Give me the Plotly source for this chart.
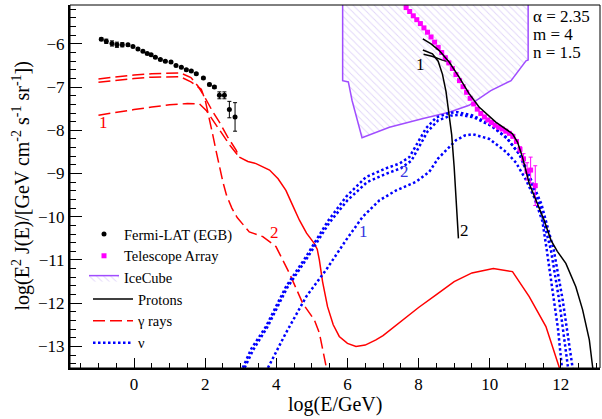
import plotly.graph_objects as go

# ---------------- data ----------------
fermi_x = [-0.92, -0.78, -0.62, -0.48, -0.33, -0.17, -0.03, 0.11, 0.25, 0.37, 0.48, 0.60, 0.74,
           0.88, 1.04, 1.18, 1.33, 1.47, 1.61, 1.75, 1.95, 2.12, 2.26, 2.40, 2.54, 2.68, 2.84]
fermi_y = [-5.89, -5.94, -5.99, -6.02, -6.02, -6.02, -6.06, -6.12, -6.17, -6.22, -6.25, -6.31, -6.36,
           -6.40, -6.42, -6.50, -6.54, -6.60, -6.63, -6.69, -6.79, -6.94, -7.00, -7.19, -7.19, -7.52, -7.69]
fermi_err = [0.03, 0.05, 0.06, 0.06, 0.05, 0.03, 0.02, 0.02, 0.02, 0.02, 0.02, 0.02, 0.02,
             0.02, 0.02, 0.02, 0.02, 0.02, 0.02, 0.02, 0.02, 0.03, 0.03, 0.08, 0.08, 0.19, 0.33]

ta_x = [7.65, 7.75, 7.85, 7.95, 8.05, 8.15, 8.25, 8.35, 8.45, 8.55, 8.65, 8.75, 8.85, 8.95,
        9.05, 9.15, 9.25, 9.35, 9.45, 9.55, 9.65, 9.75, 9.85, 9.95, 10.05, 10.15, 10.25, 10.35,
        10.45, 10.55, 10.65, 10.75, 10.85, 10.95, 11.05, 11.15, 11.28]
ta_y = [-5.16, -5.25, -5.35, -5.44, -5.53, -5.63, -5.73, -5.84, -5.96, -6.08, -6.20, -6.32, -6.44, -6.57,
        -6.71, -6.85, -6.99, -7.12, -7.26, -7.39, -7.51, -7.61, -7.69, -7.76, -7.82, -7.88, -7.93, -7.97,
        -8.02, -8.07, -8.14, -8.26, -8.44, -8.66, -8.95, -8.92, -9.28]
ta_err = [0.01, 0.01, 0.01, 0.01, 0.01, 0.01, 0.01, 0.01, 0.01, 0.01, 0.01, 0.01, 0.01, 0.01,
          0.01, 0.01, 0.01, 0.01, 0.01, 0.01, 0.01, 0.01, 0.01, 0.01, 0.01, 0.01, 0.01, 0.01,
          0.02, 0.03, 0.03, 0.04, 0.06, 0.12, 0.2, 0.3, 0.46]

icecube_x = [5.865, 5.865, 6.025, 6.13, 6.41, 7.18, 8.10, 8.86, 9.42, 10.03, 10.60, 11.02, 11.08, 11.08]
icecube_y = [-4.0, -6.85, -6.88, -7.31, -8.17, -7.93, -7.73, -7.58, -7.42, -7.08, -6.85, -6.39, -6.37, -4.0]

proton_1a_x = [8.12, 8.35, 8.58, 8.86, 9.14, 9.42, 9.70, 10.17, 10.64, 10.78, 10.92, 11.11, 11.30,
               11.53, 11.72, 11.90, 12.14, 12.42, 12.61, 12.80, 12.89, 12.93]
proton_1a_y = [-5.885, -6.00, -6.155, -6.42, -6.77, -7.15, -7.46, -7.81, -8.08, -8.27, -8.62, -9.23, -9.62,
               -10.08, -10.54, -10.80, -11.08, -11.62, -12.15, -12.85, -13.46, -13.70]
proton_1b_x = [8.14, 8.40, 8.65, 8.86]
proton_1b_y = [-6.24, -6.29, -6.37, -6.42]
proton_2_x = [8.12, 8.39, 8.55, 8.67, 8.77, 8.86, 8.93, 9.00, 9.05, 9.09, 9.12]
proton_2_y = [-6.14, -6.23, -6.40, -6.70, -7.10, -7.60, -8.10, -8.85, -9.60, -10.20, -10.50]

gamma_1_low_x = [-1.0, -0.5, 0.0, 0.5, 1.0, 1.5, 1.84, 2.03, 2.2, 2.4, 2.7, 2.96]
gamma_1_low_y = [-7.65, -7.58, -7.52, -7.46, -7.41, -7.38, -7.39, -7.54, -7.75, -8.0, -8.35, -8.62]
gamma_1_high_x = [2.96, 3.2, 3.43, 3.81, 4.05, 4.27, 4.45, 4.65, 4.85, 5.07, 5.15, 5.21, 5.3, 5.44,
                  5.6, 5.77, 6.0, 6.24, 6.5, 6.8, 7.0, 7.46, 8.0, 8.5, 9.0, 9.5, 10.1, 10.64, 11.11,
                  11.58, 11.95, 12.0]
gamma_1_high_y = [-8.62, -8.72, -8.77, -8.92, -9.12, -9.39, -9.72, -10.08, -10.38, -10.62, -10.75, -11.0,
                  -11.5, -12.08, -12.5, -12.77, -12.93, -13.0, -12.97, -12.85, -12.75, -12.45, -12.1,
                  -11.8, -11.5, -11.3, -11.2, -11.27, -11.85, -12.54, -13.46, -13.6]
gamma_2_x = [-1.0, -0.5, 0.0, 0.5, 1.0, 1.3, 1.6, 1.89, 2.0, 2.1, 2.2, 2.3, 2.4, 2.5, 2.6, 2.75,
             2.9, 3.24, 3.62, 3.99, 4.37, 4.74, 5.07, 5.21, 5.4, 5.45]
gamma_2_y = [-6.89, -6.84, -6.80, -6.77, -6.755, -6.76, -6.88, -7.05, -7.3, -7.65, -8.05, -8.45, -8.85,
             -9.2, -9.5, -9.8, -10.02, -10.35, -10.46, -10.69, -11.31, -12.0, -12.39, -12.69, -13.46, -13.7]
gamma_3_x = [-1.0, -0.5, 0.0, 0.5, 1.0, 1.3, 1.6, 1.8, 2.0, 2.2, 2.4, 2.63, 2.87, 2.96]
gamma_3_y = [-6.81, -6.76, -6.72, -6.69, -6.67, -6.67, -6.78, -6.98, -7.25, -7.55, -7.81, -8.15, -8.46, -8.62]

nu_1_x = [3.7, 4.27, 4.84, 5.4, 5.96, 6.43, 6.9, 7.37, 7.93, 8.3, 8.55, 8.77, 9.05, 9.3, 9.52,
          9.99, 10.46, 10.74, 11.02, 11.25, 11.48, 11.6, 11.78, 11.92, 12.03]
nu_1_y = [-13.6, -12.69, -11.85, -11.23, -10.54, -10.0, -9.62, -9.39, -9.19, -8.96, -8.65, -8.46, -8.23,
          -8.12, -8.09, -8.2, -8.5, -8.75, -9.15, -9.55, -10.1, -10.75, -11.8, -12.6, -13.5]
nu_2a_x = [3.0, 3.3, 3.71, 4.27, 4.84, 5.45, 5.96, 6.52, 7.08, 7.46, 7.74, 8.0, 8.21, 8.5, 8.86,
           9.1, 9.5, 9.99, 10.46, 10.83, 11.11, 11.39, 11.72, 11.95, 12.2, 12.25]
nu_2a_y = [-13.6, -13.05, -12.54, -11.62, -10.92, -10.1, -9.54, -9.08, -8.88, -8.77, -8.62, -8.23, -7.95,
           -7.7, -7.6, -7.58, -7.65, -7.85, -8.16, -8.55, -9.1, -9.7, -10.77, -11.92, -13.5, -13.8]
nu_2b_x = [3.05, 3.35, 3.75, 4.3, 4.87, 5.48, 6.0, 6.55, 7.1, 7.5, 7.8, 8.05, 8.25, 8.55, 8.9,
           9.15, 9.55, 10.05, 10.5, 10.88, 11.16, 11.45, 11.8, 12.05, 12.33, 12.38]
nu_2b_y = [-13.6, -13.08, -12.55, -11.65, -10.95, -10.15, -9.62, -9.2, -9.0, -8.88, -8.7, -8.33, -8.03,
           -7.77, -7.66, -7.64, -7.7, -7.9, -8.2, -8.6, -9.12, -9.7, -10.77, -11.92, -13.5, -13.8]

x_tick_vals = [0, 2, 4, 6, 8, 10, 12]
y_tick_vals = [-13, -12, -11, -10, -9, -8, -7, -6]

params_text = ["\u03b1 = 2.35", "m = 4", "n = 1.5"]

# ---------------- styles ----------------
SERIF = "Liberation Serif, Times New Roman, serif"
RED = "#ff0000"
BLUE = "#0000ff"
PURPLE = "#a04dff"
RED_DASH = "12px,5px"
BLUE_DOT = "2.5px,2.5px"

fig = go.Figure()

fig.add_trace(go.Scatter(
    x=icecube_x, y=icecube_y, mode="lines", fill="toself",
    fillcolor="rgba(255,255,255,0)",
    fillpattern=dict(shape="\\", fgcolor="#c2acf3", bgcolor="rgba(255,255,255,0)", size=5, solidity=0.18),
    line=dict(color=PURPLE, width=1.5), name="IceCube", legend="legend", legendrank=3))

# gamma rays
fig.add_trace(go.Scatter(x=gamma_1_low_x, y=gamma_1_low_y, mode="lines",
                         line=dict(color=RED, width=1.5, dash=RED_DASH), showlegend=False))
fig.add_trace(go.Scatter(x=gamma_1_high_x, y=gamma_1_high_y, mode="lines",
                         line=dict(color=RED, width=1.5), showlegend=False))
fig.add_trace(go.Scatter(x=gamma_3_x, y=gamma_3_y, mode="lines",
                         line=dict(color=RED, width=1.5, dash=RED_DASH), showlegend=False))
fig.add_trace(go.Scatter(x=gamma_2_x, y=gamma_2_y, mode="lines",
                         line=dict(color=RED, width=1.5, dash=RED_DASH),
                         name="\u03b3 rays", legend="legend2", legendrank=2))

# neutrinos
fig.add_trace(go.Scatter(x=nu_1_x, y=nu_1_y, mode="lines",
                         line=dict(color=BLUE, width=2.5, dash=BLUE_DOT), showlegend=False))
fig.add_trace(go.Scatter(x=nu_2b_x, y=nu_2b_y, mode="lines",
                         line=dict(color=BLUE, width=2.5, dash=BLUE_DOT), showlegend=False))
fig.add_trace(go.Scatter(x=nu_2a_x, y=nu_2a_y, mode="lines",
                         line=dict(color=BLUE, width=2.5, dash=BLUE_DOT),
                         name="\u03bd", legend="legend2", legendrank=3))

# protons
fig.add_trace(go.Scatter(x=proton_1b_x, y=proton_1b_y, mode="lines",
                         line=dict(color="black", width=1.5), showlegend=False))
fig.add_trace(go.Scatter(x=proton_2_x, y=proton_2_y, mode="lines",
                         line=dict(color="black", width=1.5), showlegend=False))

# data
fig.add_trace(go.Scatter(
    x=ta_x, y=ta_y, mode="markers",
    marker=dict(color="#ff00ff", size=5, symbol="square"),
    error_y=dict(type="data", array=ta_err, color="#ff00ff", thickness=1, width=2),
    name="Telescope Array", legend="legend", legendrank=2))
fig.add_trace(go.Scatter(x=proton_1a_x, y=proton_1a_y, mode="lines",
                         line=dict(color="black", width=1.5),
                         name="Protons", legend="legend2", legendrank=1))
fig.add_trace(go.Scatter(
    x=fermi_x, y=fermi_y, mode="markers",
    marker=dict(color="black", size=5),
    error_y=dict(type="data", array=fermi_err, color="black", thickness=1, width=2),
    name="Fermi-LAT (EGB)", legend="legend", legendrank=1))

# ---------------- annotations ----------------
ann = []
def lab(x, y, t, c):
    ann.append(dict(x=x, y=y, xref="x", yref="y", text=t, showarrow=False,
                    font=dict(family=SERIF, size=17, color=c), xanchor="center", yanchor="middle"))

lab(-0.87, -7.81, "1", RED)
lab(3.94, -10.37, "2", RED)
lab(6.45, -10.35, "1", "#3535e0")
lab(7.59, -8.96, "2", "#3535e0")
lab(8.06, -6.47, "1", "black")
lab(9.28, -10.31, "2", "black")

for i, t in enumerate(params_text):
    ann.append(dict(x=(531 - 70) / 530, y=(368 - (16.7 + 17.7 * i)) / 363, xref="paper", yref="paper",
                    text=t, showarrow=False, xanchor="left", yanchor="middle",
                    font=dict(family=SERIF, size=17, color="black")))

ann.append(dict(x=0.5, y=(368 - 404) / 363, xref="paper", yref="paper", text="log(E/GeV)",
                showarrow=False, xanchor="center", yanchor="middle",
                font=dict(family=SERIF, size=20, color="black")))
ann.append(dict(x=(21 - 70) / 530, y=0.5, xref="paper", yref="paper",
                text="log(E<sup>2</sup> J(E)/[GeV cm<sup>-2</sup> s<sup>-1</sup> sr<sup>-1</sup>])",
                showarrow=False, textangle=-90, xanchor="center", yanchor="middle",
                font=dict(family=SERIF, size=20, color="black")))

fig.update_layout(
    width=602, height=419,
    margin=dict(l=70, r=2, t=5, b=51),
    paper_bgcolor="white", plot_bgcolor="white",
    font=dict(family=SERIF, color="black"),
    annotations=ann,
    shapes=[dict(type="rect", xref="paper", yref="paper", x0=0, x1=1, y0=0, y1=1,
                 line=dict(color="black", width=1), layer="above")],
    legend=dict(x=(84 - 70) / 530, y=(368 - 218) / 363, xanchor="left", yanchor="top",
                bgcolor="rgba(255,255,255,0)", font=dict(family=SERIF, size=14.5, color="black"),
                itemwidth=30, tracegroupgap=0),
    legend2=dict(x=(88 - 70) / 530, y=(368 - 283) / 363, xanchor="left", yanchor="top",
                 bgcolor="rgba(255,255,255,0)", font=dict(family=SERIF, size=14.5, color="black"),
                 itemwidth=40, tracegroupgap=0),
    xaxis=dict(range=[-1.8, 13.1], tickvals=x_tick_vals, ticks="inside", ticklen=10, tickwidth=1,
               tickcolor="black", showline=True, linewidth=2, linecolor="black", mirror=False,
               showgrid=False, zeroline=False,
               tickfont=dict(family=SERIF, size=17, color="black"),
               minor=dict(dtick=0.5, tick0=0, ticks="inside", ticklen=5, tickcolor="black", showgrid=False)),
    yaxis=dict(range=[-13.5, -5.1], tickvals=y_tick_vals, ticks="inside", ticklen=12, tickwidth=1,
               tickcolor="black", showline=True, linewidth=2, linecolor="black", mirror=False,
               showgrid=False, zeroline=False,
               tickfont=dict(family=SERIF, size=17, color="black"),
               minor=dict(dtick=0.2, tick0=0, ticks="inside", ticklen=6, tickcolor="black", showgrid=False)),
)

fig.write_html("out.html")
